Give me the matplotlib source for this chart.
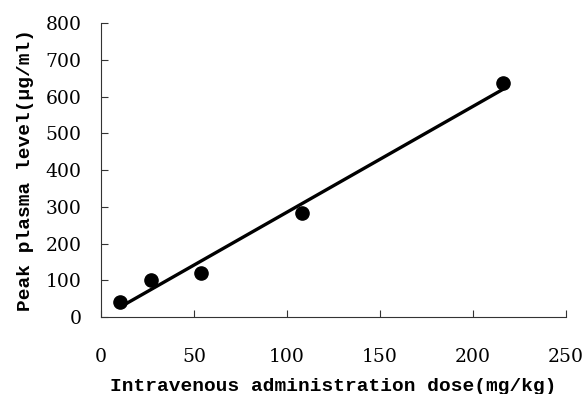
import numpy as np
import matplotlib
matplotlib.use('Agg')
import matplotlib.pyplot as plt

# 데이터
dose = [10, 27, 54, 108, 216]
peak = [40, 102, 121, 283, 636]
x_ticks = [0, 50, 100, 150, 200, 250]
y_ticks = [0, 100, 200, 300, 400, 500, 600, 700, 800]

# 회귀선
slope, intercept = np.polyfit(dose, peak, 1)
fit_x = np.array([min(dose), max(dose)])
fit_y = slope * fit_x + intercept

fig = plt.figure(figsize=(5.86, 3.94), dpi=100)
ax = fig.add_axes([0.1724, 0.1954, 0.7935, 0.7462])

ax.plot(fit_x, fit_y, color='black', linewidth=2.4, solid_capstyle='round')
ax.plot(dose, peak, 'o', color='black', markersize=9.5)

ax.set_xlim(0, 250)
ax.set_ylim(0, 800)
ax.set_xticks(x_ticks)
ax.set_yticks(y_ticks)

for side in ['top', 'right']:
    ax.spines[side].set_visible(False)
for side in ['left', 'bottom']:
    ax.spines[side].set_linewidth(0.8)
    ax.spines[side].set_color('#333333')

ax.tick_params(axis='both', direction='in', length=5, width=0.8, color='#333333')
ax.tick_params(axis='x', pad=22)
ax.tick_params(axis='y', pad=14)
for lab in ax.get_xticklabels() + ax.get_yticklabels():
    lab.set_fontfamily('DejaVu Serif')
    lab.set_fontsize(13.5)

ax.set_xlabel('Intravenous administration dose(mg/kg)', family='Liberation Mono',
              fontsize=14, fontweight='bold', labelpad=9)
ax.set_ylabel('Peak plasma level(μg/ml)', family='Liberation Mono',
              fontsize=14, fontweight='bold', labelpad=8)

fig.savefig('out.png', dpi=100)
